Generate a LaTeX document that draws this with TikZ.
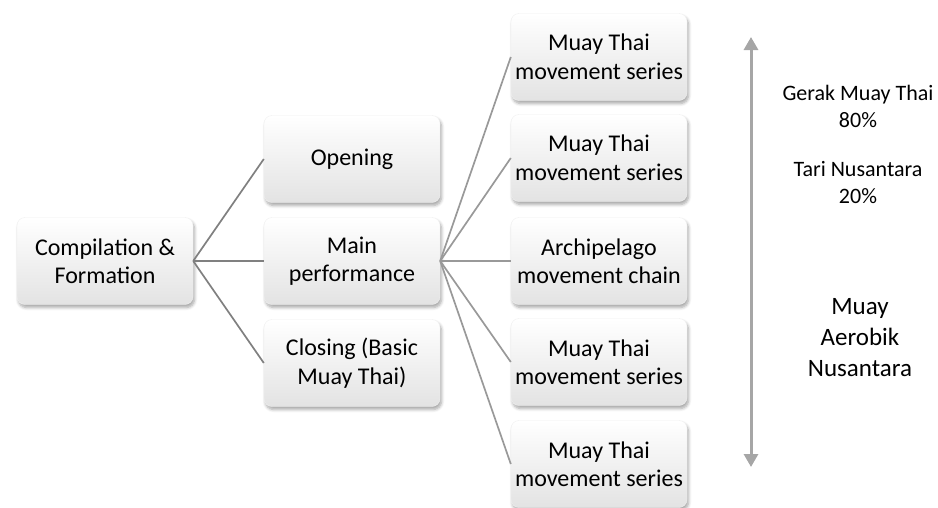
\documentclass[tikz,border=0pt]{standalone}
\usepackage{fontspec}
\setmainfont{Carlito}
\usetikzlibrary{shadows,shadows.blur,arrows.meta}
\tikzset{
  box/.style={rectangle, rounded corners=8pt, minimum width=176pt, minimum height=87pt,
    inner sep=2pt, top color=white, bottom color=black!11, draw=black!6, line width=0.4pt,
    align=center, font=\fontsize{24}{28.5}\selectfont,
    blur shadow={shadow xshift=1.5pt, shadow yshift=-3pt, shadow blur steps=6, shadow opacity=35, shadow blur radius=3pt}},
  linkA/.style={draw=black!50, line width=1.7pt},
  linkB/.style={draw=black!40, line width=1.7pt},
  note/.style={align=center, font=\fontsize{22}{27}\selectfont},
  bignote/.style={align=center, font=\fontsize{25}{31}\selectfont},
}
\begin{document}
\begin{tikzpicture}[x=1pt,y=-1pt]
\useasboundingbox (0,0) rectangle (938,507);
\node[box] (comp) at (105,261) {Compilation \&\\Formation};
\node[box] (open) at (352,159) {Opening};
\node[box] (main) at (352,261) {Main\\performance};
\node[box] (close) at (352,363) {Closing (Basic\\Muay Thai)};
\node[box] (r1) at (599,57) {Muay Thai\\movement series};
\node[box] (r2) at (599,158) {Muay Thai\\movement series};
\node[box] (r3) at (599,261) {Archipelago\\movement chain};
\node[box] (r4) at (599,362) {Muay Thai\\movement series};
\node[box] (r5) at (599,464) {Muay Thai\\movement series};

\draw[linkA] (comp.east) -- (open.west);
\draw[linkA] (comp.east) -- (main.west);
\draw[linkA] (comp.east) -- (close.west);
\foreach \r in {r1,r2,r3,r4,r5} \draw[linkB] (main.east) -- (\r.west);

\coordinate (atop) at (751,37);
\coordinate (abot) at (751,467);
\draw[draw=black!35, line width=3pt, {Triangle[length=13pt,width=14pt]}-{Triangle[length=13pt,width=14pt]}, color=black!35] (atop) -- (abot);

\node[note] (t1) at (858,106) {Gerak Muay Thai\\80\%};
\node[note] (t2) at (858,183) {Tari Nusantara\\20\%};
\node[bignote] (t3) at (860,338) {Muay\\Aerobik\\Nusantara};
\end{tikzpicture}
\end{document}
